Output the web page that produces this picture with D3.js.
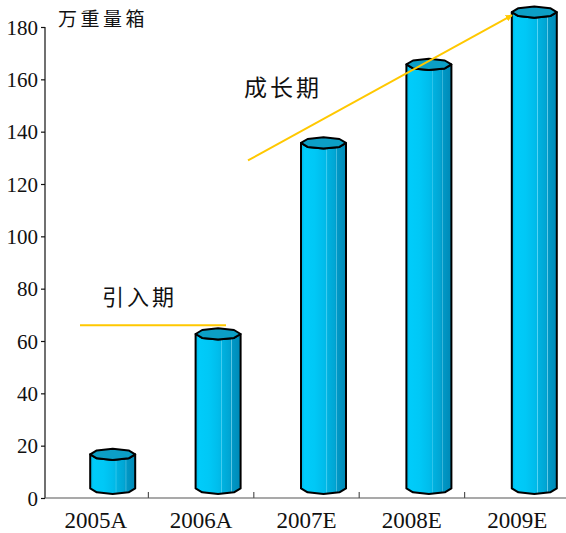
<!DOCTYPE html>
<html>
<head>
<meta charset="utf-8">
<script src="https://cdn.jsdelivr.net/npm/d3@7"></script>
<style>
  html, body { margin: 0; padding: 0; background: #fff; }
  svg { display: block; }
  .num { font-family: 'Liberation Serif', 'Times New Roman', serif; }
</style>
</head>
<body>
<svg id="chart" width="566" height="533"></svg>
<script>
// Output volume per year (A = actual, E = estimate), unit: 万重量箱
const categories = ["2005A", "2006A", "2007E", "2008E", "2009E"];
const volumes = [13, 59, 132, 162, 182];
const yTicks = [0, 20, 40, 60, 80, 100, 120, 140, 160, 180];
const unitLabel = "万重量箱";
const phaseLabels = ["引入期", "成长期"];

const svg = d3.select("#chart");

const x = d3.scaleBand().domain(categories).range([43, 570]).padding(0);
const y = d3.scaleLinear().domain([0, 180]).range([498, 27]);

const serif = "'Liberation Serif', 'Times New Roman', serif";
const cjk = "'Noto Sans CJK SC', sans-serif";

// ---- gradient for the prism front faces
const defs = svg.append("defs");
const grad = defs.append("linearGradient").attr("id", "frontGrad")
  .attr("x1", "0%").attr("x2", "100%").attr("y1", "0%").attr("y2", "0%");
[
  [0, "#00b6e6"], [8, "#00ccfa"], [30, "#00c8f6"], [50, "#00bdec"],
  [56, "#00b8e6"], [57, "#5ad6f5"], [59, "#00b2e0"], [75, "#00a6d4"],
  [78, "#009ccb"], [79.5, "#6fd0ea"], [81, "#0098c6"], [100, "#0089b6"]
].forEach(([o, c]) => grad.append("stop").attr("offset", o + "%").attr("stop-color", c));

// ---- axes
const yAxis = d3.axisLeft(y).tickValues(yTicks).tickSize(4).tickPadding(3);
const gy = svg.append("g").attr("transform", "translate(45,0)").call(yAxis)
  .attr("font-family", serif).attr("font-size", 21);
gy.select(".domain").attr("stroke", "#111").attr("stroke-width", 1.2).attr("d", "M0,27V498");
gy.selectAll(".tick line").attr("stroke", "#111").attr("stroke-width", 1.2);
gy.selectAll(".tick text").attr("class", "num").style("font-family", serif).style("font-size", "21px")
  .attr("fill", "#111").attr("dy", "0.34em");

const xAxis = d3.axisBottom(x).tickSize(0).tickPadding(14);
const gx = svg.append("g").attr("transform", "translate(0,498)").call(xAxis)
  .attr("font-family", serif).attr("font-size", 23);
gx.select(".domain").attr("stroke", "#555").attr("stroke-width", 1.2).attr("d", "M45,0H566");
gx.selectAll(".tick text").attr("class", "num").style("font-family", serif).style("font-size", "23px")
  .attr("fill", "#111");
// separator ticks between categories, pointing up into the plot
const seps = categories.slice(1).map(c => x(c));
gx.selectAll(".sep").data(seps).enter().append("line")
  .attr("x1", d => d).attr("x2", d => d).attr("y1", -6).attr("y2", 0)
  .attr("stroke", "#555").attr("stroke-width", 1.2);

// ---- octagonal prism bars
const depthX = 17, depthY = 4;           // 3D offset of bars from the category centre
const r = 22.5, k = 0.25;                // half width and top-face squash
const angles = d3.range(8).map(i => i * Math.PI / 4);
const frontAngles = [Math.PI, 1.25 * Math.PI, 1.5 * Math.PI, 1.75 * Math.PI, 2 * Math.PI];

const bars = svg.append("g");
categories.forEach((c, i) => {
  const v = volumes[i];
  const cx = x(c) + x.bandwidth() / 2 + depthX;
  const yc = y(v) - depthY - r * k;       // centre of top face
  const yb = y(0) - depthY - r * k;       // centre of bottom face
  const pt = (a, yy) => [cx + r * Math.cos(a), yy - r * k * Math.sin(a)];

  const topEdge = frontAngles.map(a => pt(a, yc));
  const botEdge = frontAngles.map(a => pt(a, yb)).reverse();
  const front = d3.line()([...topEdge, ...botEdge]) + "Z";
  bars.append("path").attr("d", front).attr("fill", "url(#frontGrad)")
    .attr("stroke", "#000").attr("stroke-width", 2).attr("stroke-linejoin", "round");

  const top = d3.line()(angles.map(a => pt(a, yc))) + "Z";
  bars.append("path").attr("d", top).attr("fill", "#0c9fc6")
    .attr("stroke", "#000").attr("stroke-width", 2).attr("stroke-linejoin", "round");
});

// ---- unit label
svg.append("text").attr("x", 58).attr("y", 26).attr("font-family", cjk)
  .attr("font-size", 19).attr("letter-spacing", 3.5).attr("fill", "#111").text(unitLabel);

// ---- phase annotations
const gold = "#ffc800";
svg.append("line").attr("x1", 80).attr("x2", 226).attr("y1", y(66)).attr("y2", y(66))
  .attr("stroke", gold).attr("stroke-width", 2);
svg.append("text").attr("x", 102).attr("y", 305).attr("font-family", cjk)
  .attr("font-size", 22).attr("letter-spacing", 3).attr("fill", "#111").text(phaseLabels[0]);

defs.append("marker").attr("id", "arrow").attr("viewBox", "0 0 10 10")
  .attr("refX", 9).attr("refY", 5).attr("markerWidth", 7).attr("markerHeight", 7)
  .attr("orient", "auto").attr("markerUnits", "userSpaceOnUse")
  .append("path").attr("d", "M0,0L10,5L0,10Z").attr("fill", gold);
svg.append("line").attr("x1", 248).attr("y1", y(129)).attr("x2", 512).attr("y2", y(184.5))
  .attr("stroke", gold).attr("stroke-width", 2).attr("marker-end", "url(#arrow)");
svg.append("text").attr("x", 244).attr("y", 96).attr("font-family", cjk)
  .attr("font-size", 23).attr("letter-spacing", 3).attr("fill", "#111").text(phaseLabels[1]);
</script>
</body>
</html>
